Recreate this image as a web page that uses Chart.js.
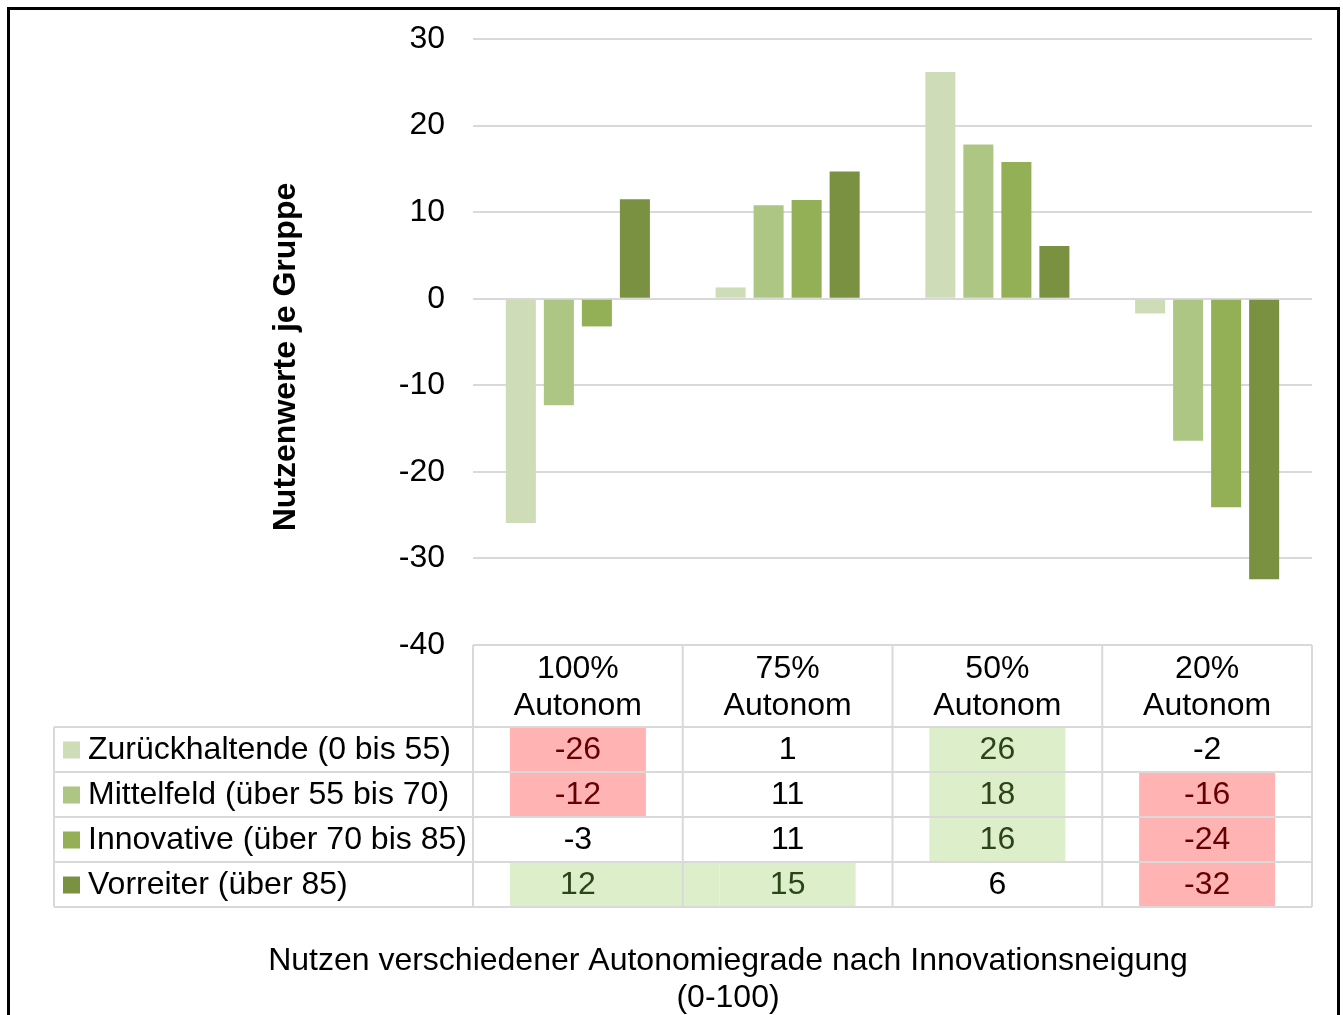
<!DOCTYPE html>
<html>
<head>
<meta charset="utf-8">
<script src="https://cdn.jsdelivr.net/npm/chart.js@4"></script>
<style>
  html, body { margin:0; padding:0; background:#fff; }
  #wrap { width:1343px; height:1015px; }
</style>
</head>
<body>
<div id="wrap"><canvas id="myChart" width="1343" height="1015"></canvas></div>
<script>
const categories = [['100%', 'Autonom'], ['75%', 'Autonom'], ['50%', 'Autonom'], ['20%', 'Autonom']];
const seriesNames = ['Zurückhaltende (0 bis 55)', 'Mittelfeld (über 55 bis 70)', 'Innovative (über 70 bis 85)', 'Vorreiter (über 85)'];
const zurueckhaltende = [-25.9, 1.3, 26.2, -1.7];
const mittelfeld = [-12.3, 10.8, 17.8, -16.4];
const innovative = [-3.2, 11.4, 15.8, -24.1];
const vorreiter = [11.5, 14.7, 6.1, -32.4];
const yTicks = [30, 20, 10, 0, -10, -20, -30, -40];
const colors = ['#cfdcb8', '#aec684', '#94b056', '#7a9142'];
const chartTitle = ['Nutzen verschiedener Autonomiegrade nach Innovationsneigung', '(0-100)'];
const yTitle = 'Nutzenwerte je Gruppe';

const FONT = '"Liberation Sans", Arial, sans-serif';
const allSeries = [zurueckhaltende, mittelfeld, innovative, vorreiter];

// data table + legend keys under the plot, plus frame and titles
const tablePlugin = {
  id: 'dataTable',
  afterDraw(chart) {
    const ctx = chart.ctx;
    const x = chart.scales.x;
    const area = chart.chartArea;
    const catW = (area.right - area.left) / categories.length;
    const top = area.bottom;
    const headH = 82, rowH = 45;
    const labelLeft = 54;
    const rowTop = r => top + headH + r * rowH;

    ctx.save();
    // conditional highlight cells
    for (let r = 0; r < allSeries.length; r++) {
      for (let c = 0; c < categories.length; c++) {
        const v = Math.round(allSeries[r][c]);
        let fill = null;
        if (v >= 12) fill = '#ddeecb';
        if (v <= -12) fill = '#ffb3b3';
        if (!fill) continue;
        const cx = x.getPixelForValue(c);
        let x1 = cx - 68, x2 = cx + 68;
        const nv = c + 1 < categories.length ? Math.round(allSeries[r][c + 1]) : 0;
        if ((fill === '#ddeecb' && nv >= 12) || (fill === '#ffb3b3' && nv <= -12)) {
          x2 = x.getPixelForValue(c + 1) - 68;
        }
        ctx.fillStyle = fill;
        ctx.fillRect(x1, rowTop(r) + 1, x2 - x1, rowH - 2);
      }
    }

    // grid
    ctx.strokeStyle = '#d9d9d9';
    ctx.lineWidth = 2;
    ctx.beginPath();
    ctx.moveTo(area.left, top); ctx.lineTo(area.right, top);
    for (let r = 0; r <= allSeries.length; r++) {
      ctx.moveTo(labelLeft, rowTop(r)); ctx.lineTo(area.right, rowTop(r));
    }
    for (let c = 0; c <= categories.length; c++) {
      const lx = area.left + c * catW;
      ctx.moveTo(lx, top); ctx.lineTo(lx, rowTop(allSeries.length));
    }
    ctx.moveTo(labelLeft, rowTop(0)); ctx.lineTo(labelLeft, rowTop(allSeries.length));
    ctx.stroke();

    // header text
    ctx.font = '32px ' + FONT;
    ctx.textAlign = 'center';
    ctx.textBaseline = 'middle';
    ctx.fillStyle = '#000';
    categories.forEach((lines, c) => {
      const cx = x.getPixelForValue(c);
      lines.forEach((t, i) => ctx.fillText(t, cx, top + 24 + i * 37));
    });

    // values + legend
    for (let r = 0; r < allSeries.length; r++) {
      const cy = rowTop(r) + rowH / 2 + 1;
      for (let c = 0; c < categories.length; c++) {
        const v = Math.round(allSeries[r][c]);
        ctx.fillStyle = v >= 12 ? '#2b4418' : (v <= -12 ? '#660000' : '#000');
        ctx.textAlign = 'center';
        ctx.fillText(String(v), x.getPixelForValue(c), cy);
      }
      ctx.fillStyle = colors[r];
      ctx.fillRect(63, cy - 9, 17, 17);
      ctx.fillStyle = '#000';
      ctx.textAlign = 'left';
      ctx.fillText(seriesNames[r], 88, cy);
    }

    // bottom title
    ctx.textAlign = 'center';
    chartTitle.forEach((t, i) => ctx.fillText(t, 728, 961 + i * 37));

    // y axis title
    ctx.save();
    ctx.translate(286, 357);
    ctx.rotate(-Math.PI / 2);
    ctx.font = 'bold 32px ' + FONT;
    ctx.fillText(yTitle, 0, 0);
    ctx.restore();

    // outer frame
    ctx.strokeStyle = '#000';
    ctx.lineWidth = 3;
    ctx.strokeRect(8.5, 8.5, 1330, 1030);
    ctx.restore();
  }
};

const myChart = new Chart(document.getElementById('myChart').getContext('2d'), {
  type: 'bar',
  data: {
    labels: categories,
    datasets: seriesNames.map((name, i) => ({
      label: name,
      data: allSeries[i],
      backgroundColor: colors[i],
      categoryPercentage: 0.725,
      barPercentage: 0.79
    }))
  },
  options: {
    responsive: false,
    animation: false,
    layout: { padding: { left: 260, top: 39, right: 31, bottom: 370 } },
    scales: {
      x: { display: false },
      y: {
        min: -40,
        max: 30,
        afterFit: scale => { scale.width = 213; },
        afterBuildTicks: scale => { scale.ticks = yTicks.map(v => ({ value: v })); },
        ticks: { color: '#000', font: { family: FONT, size: 32 }, padding: 0 },
        grid: { color: '#d9d9d9', lineWidth: 2, drawTicks: true, tickLength: 28, tickColor: 'rgba(0,0,0,0)' },
        border: { display: false }
      }
    },
    plugins: {
      legend: { display: false },
      title: { display: false },
      tooltip: { enabled: false }
    }
  },
  plugins: [tablePlugin]
});
</script>
</body>
</html>
